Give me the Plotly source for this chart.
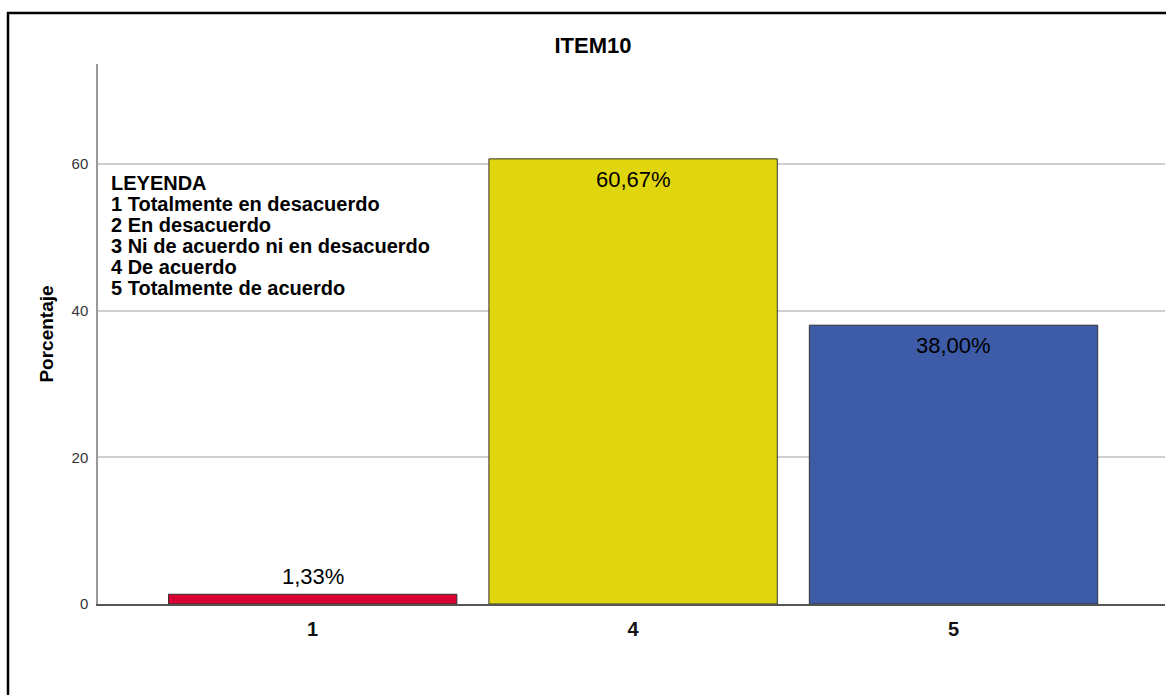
import plotly.graph_objects as go

categories = ["1", "4", "5"]
values = [1.33, 60.67, 38.00]
labels = ["1,33%", "60,67%", "38,00%"]
colors = ["#d80031", "#e0d60e", "#3d5ba6"]
label_inside = [False, True, True]
y_ticks = [0, 20, 40, 60]
legend_lines = ["LEYENDA", "1 Totalmente en desacuerdo", "2 En desacuerdo",
                "3 Ni de acuerdo ni en desacuerdo", "4 De acuerdo", "5 Totalmente de acuerdo"]

W, H = 1166, 695
L, R, T, B = 98, 1, 64, 91
pw, ph = W - L - R, H - T - B
FONT = "Liberation Sans, Arial"

def px(x):
    return (x - L) / pw

def py(y):
    return (H - B - y) / ph

fig = go.Figure(go.Bar(
    x=categories, y=values, width=0.9,
    marker=dict(color=colors, line=dict(color="#333333", width=1)),
    cliponaxis=False,
))

# category axis: annotation x given as category index
for idx, (val, lab, inside) in enumerate(zip(values, labels, label_inside)):
    fig.add_annotation(
        x=idx, y=val, text=lab, showarrow=False,
        yanchor="top" if inside else "bottom",
        yshift=-6 if inside else 3,
        font=dict(family=FONT, size=22, color="black"),
    )

fig.update_layout(
    width=W, height=H, margin=dict(l=L, r=R, t=T, b=B),
    plot_bgcolor="white", paper_bgcolor="white", showlegend=False,
    font=dict(family=FONT, color="#222"),
    title=dict(text="<b>ITEM10</b>", x=593 / W, xanchor="center", y=1 - 45 / H, yanchor="middle",
               font=dict(size=22, color="black")),
    xaxis=dict(type="category", range=[-0.67, 2.66], showgrid=False,
               showline=True, linecolor="#555", linewidth=1.5,
               tickfont=dict(size=20, color="#111", family=FONT, weight="bold"),
               ticks="", ticklabelstandoff=6),
    yaxis=dict(range=[0, 73.6], tickvals=y_ticks, showgrid=True, gridcolor="#cfcfcf", gridwidth=1.5,
               showline=True, linecolor="#999", linewidth=1.5, zeroline=False,
               ticks="", tickfont=dict(size=15, color="#333"), ticklabelstandoff=5,
               title=dict(text="<b>Porcentaje</b>", font=dict(size=19, color="black"), standoff=13)),
    bargap=0.1,
)

for i, line in enumerate(legend_lines):
    fig.add_annotation(
        text="<b>" + line + "</b>",
        xref="paper", yref="paper", x=px(109), y=py(183 + 21 * i), xanchor="left", yanchor="middle",
        align="left", showarrow=False,
        font=dict(family=FONT, size=20, color="black"),
    )

# outer frame (top and left)
fig.add_shape(type="line", xref="paper", yref="paper", x0=px(7), x1=px(1170), y0=py(13), y1=py(13),
              line=dict(color="black", width=2.5))
fig.add_shape(type="line", xref="paper", yref="paper", x0=px(8), x1=px(8), y0=py(12), y1=py(700),
              line=dict(color="black", width=2.5))

fig.write_html("out.html")
